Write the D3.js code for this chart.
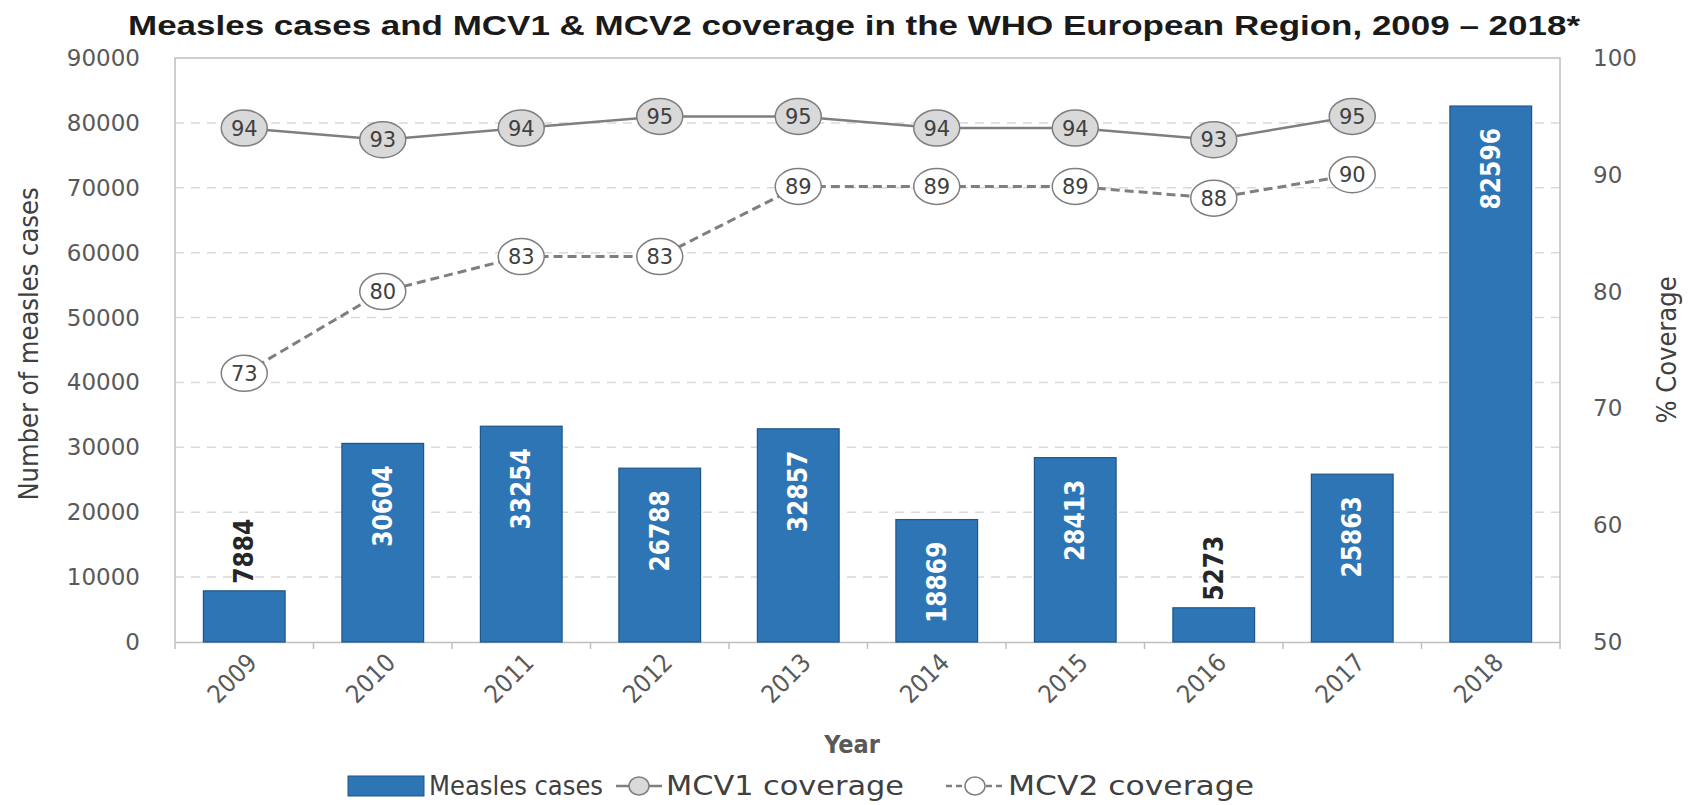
<!DOCTYPE html>
<html>
<head>
<meta charset="utf-8">
<script src="https://cdn.jsdelivr.net/npm/d3@7"></script>
<style>
  body { margin: 0; background: #fff; }
  svg { display: block; }
  .cond { font-family: "Liberation Sans Narrow", "DejaVu Sans Condensed", "Roboto", sans-serif; }
  .wide { font-family: "DejaVu Sans", "Verdana", sans-serif; }
</style>
</head>
<body>
<svg id="chart" width="1696" height="805"></svg>
<script>
var years = ["2009","2010","2011","2012","2013","2014","2015","2016","2017","2018"];
var cases = [7884, 30604, 33254, 26788, 32857, 18869, 28413, 5273, 25863, 82596];
var mcvYears = ["2009","2010","2011","2012","2013","2014","2015","2016","2017"];
var mcv1 = [94, 93, 94, 95, 95, 94, 94, 93, 95];
var mcv2 = [73, 80, 83, 83, 89, 89, 89, 88, 90];
var leftTicks = [0,10000,20000,30000,40000,50000,60000,70000,80000,90000];
var rightTicks = [50,60,70,80,90,100];

var svg = d3.select('#chart');
var pLeft = 175, pRight = 1560, pTop = 58, pBottom = 642;

// scales
var x = d3.scaleBand().domain(years).range([pLeft, pRight]).paddingInner(0.41).paddingOuter(0.205);
var xc = function(yr) { return x(yr) + x.bandwidth() / 2; };
var y = d3.scaleLinear().domain([0, 90000]).range([pBottom, pTop]);
var y2 = d3.scaleLinear().domain([50, 100]).range([pBottom, pTop]);

// title
svg.append('text')
  .attr('x', 854).attr('y', 35)
  .attr('text-anchor', 'middle')
  .attr('font-family', '"Liberation Sans", Arial, sans-serif')
  .attr('font-weight', 'bold').attr('font-size', 27)
  .attr('fill', '#1a1a1a')
  .attr('textLength', 1452).attr('lengthAdjust', 'spacingAndGlyphs')
  .text('Measles cases and MCV1 & MCV2 coverage in the WHO European Region, 2009 \u2013 2018*');

// gridlines
svg.append('g').selectAll('line')
  .data(leftTicks.filter(function(t){ return t > 0 && t < 90000; }))
  .enter().append('line')
    .attr('x1', pLeft).attr('x2', pRight)
    .attr('y1', function(d){ return y(d); }).attr('y2', function(d){ return y(d); })
    .attr('stroke', '#d9d9d9').attr('stroke-width', 1.5)
    .attr('stroke-dasharray', '9,7');

// plot frame (left, top, right)
svg.append('path')
  .attr('d', 'M' + pLeft + ',' + pBottom + 'V' + pTop + 'H' + pRight + 'V' + pBottom)
  .attr('fill', 'none').attr('stroke', '#bfbfbf').attr('stroke-width', 1.5);

// x axis
var xAxis = d3.axisBottom(x).tickSize(0).tickFormat('');
svg.append('g').attr('transform', 'translate(0,' + pBottom + ')').call(xAxis)
  .call(function(g){ g.select('.domain').attr('stroke', '#bfbfbf').attr('stroke-width', 1.5); });
// category separator ticks
var seps = d3.range(years.length + 1).map(function(i){ return pLeft + i * (pRight - pLeft) / years.length; });
svg.append('g').selectAll('line').data(seps).enter().append('line')
  .attr('x1', function(d){ return d; }).attr('x2', function(d){ return d; })
  .attr('y1', pBottom).attr('y2', pBottom + 7)
  .attr('stroke', '#bfbfbf').attr('stroke-width', 1.5);

svg.append('g').selectAll('text').data(years).enter().append('text')
  .attr('class', 'cond')
  .attr('transform', function(d){ return 'translate(' + (xc(d) + 8) + ',' + (pBottom + 16) + ') rotate(-45)'; })
  .attr('text-anchor', 'end').attr('dy', '0.35em')
  .attr('font-size', 25).attr('fill', '#595959')
  .text(function(d){ return d; });

// left axis labels
svg.append('g').selectAll('text').data(leftTicks).enter().append('text')
  .attr('class', 'wide')
  .attr('x', 140).attr('y', function(d){ return y(d); })
  .attr('dy', '0.35em').attr('text-anchor', 'end')
  .attr('font-size', 23).attr('fill', '#595959')
  .text(function(d){ return d; });

// right axis labels
svg.append('g').selectAll('text').data(rightTicks).enter().append('text')
  .attr('class', 'wide')
  .attr('x', 1593).attr('y', function(d){ return y2(d); })
  .attr('dy', '0.35em').attr('text-anchor', 'start')
  .attr('font-size', 23).attr('fill', '#595959')
  .text(function(d){ return d; });

// axis titles
svg.append('text').attr('class', 'cond')
  .attr('transform', 'translate(38,344) rotate(-90)')
  .attr('text-anchor', 'middle').attr('font-size', 27).attr('fill', '#404040')
  .text('Number of measles cases');
svg.append('text').attr('class', 'cond')
  .attr('transform', 'translate(1676,350) rotate(-90)')
  .attr('text-anchor', 'middle').attr('font-size', 27).attr('fill', '#404040')
  .text('% Coverage');
svg.append('text').attr('class', 'cond')
  .attr('x', 852).attr('y', 753).attr('text-anchor', 'middle')
  .attr('font-weight', 'bold').attr('font-size', 25).attr('fill', '#595959')
  .text('Year');

// bars
svg.append('g').selectAll('rect').data(cases).enter().append('rect')
  .attr('x', function(d, i){ return x(years[i]); })
  .attr('y', function(d){ return y(d); })
  .attr('width', x.bandwidth())
  .attr('height', function(d){ return pBottom - y(d); })
  .attr('fill', '#2e75b6').attr('stroke', '#1f5688').attr('stroke-width', 1.2);

// bar labels
svg.append('g').selectAll('text').data(cases).enter().append('text')
  .attr('class', 'cond')
  .attr('transform', function(d, i){
    var inside = d > 15000;
    var ty = inside ? y(d) + 22 : y(d) - 7;
    return 'translate(' + xc(years[i]) + ',' + ty + ') rotate(-90)';
  })
  .attr('text-anchor', function(d){ return d > 15000 ? 'end' : 'start'; })
  .attr('dy', '0.35em')
  .attr('font-size', 26).attr('font-weight', 'bold')
  .attr('fill', function(d){ return d > 15000 ? '#ffffff' : '#262626'; })
  .text(function(d){ return d; });

// coverage lines
var line = d3.line().x(function(d, i){ return xc(mcvYears[i]); }).y(function(d){ return y2(d); });
svg.append('path').datum(mcv1)
  .attr('d', line).attr('fill', 'none')
  .attr('stroke', '#7f7f7f').attr('stroke-width', 2.5);
svg.append('path').datum(mcv2)
  .attr('d', line).attr('fill', 'none')
  .attr('stroke', '#7f7f7f').attr('stroke-width', 3).attr('stroke-dasharray', '9,5');

function markers(data, fill) {
  var g = svg.append('g').selectAll('g').data(data).enter().append('g')
    .attr('transform', function(d, i){ return 'translate(' + xc(mcvYears[i]) + ',' + y2(d) + ')'; });
  g.append('ellipse').attr('rx', 23).attr('ry', 18)
    .attr('fill', fill).attr('stroke', '#7f7f7f').attr('stroke-width', 1.5);
  g.append('text').attr('class', 'wide')
    .attr('text-anchor', 'middle').attr('dy', '0.36em')
    .attr('font-size', 21).attr('fill', '#404040')
    .text(function(d){ return d; });
}
markers(mcv1, '#d9d9d9');
markers(mcv2, '#ffffff');

// legend
var ly = 786;
var lg = svg.append('g').attr('class', 'cond').attr('font-size', 27).attr('fill', '#404040');
lg.append('rect').attr('x', 348).attr('y', ly - 10).attr('width', 76).attr('height', 20)
  .attr('fill', '#2e75b6').attr('stroke', '#1f5688');
lg.append('text').attr('x', 429).attr('y', ly).attr('dy', '0.35em')
  .attr('textLength', 174).attr('lengthAdjust', 'spacingAndGlyphs').text('Measles cases');
lg.append('line').attr('x1', 616).attr('x2', 662).attr('y1', ly).attr('y2', ly)
  .attr('stroke', '#7f7f7f').attr('stroke-width', 2.5);
lg.append('ellipse').attr('cx', 639).attr('cy', ly).attr('rx', 10).attr('ry', 9)
  .attr('fill', '#d9d9d9').attr('stroke', '#7f7f7f').attr('stroke-width', 1.5);
lg.append('text').attr('x', 666).attr('y', ly).attr('dy', '0.35em')
  .attr('textLength', 238).attr('lengthAdjust', 'spacingAndGlyphs').text('MCV1 coverage');
lg.append('line').attr('x1', 946).attr('x2', 1002).attr('y1', ly).attr('y2', ly)
  .attr('stroke', '#7f7f7f').attr('stroke-width', 2.5).attr('stroke-dasharray', '6,4');
lg.append('ellipse').attr('cx', 975).attr('cy', ly).attr('rx', 10).attr('ry', 9)
  .attr('fill', '#ffffff').attr('stroke', '#7f7f7f').attr('stroke-width', 1.5);
lg.append('text').attr('x', 1008).attr('y', ly).attr('dy', '0.35em')
  .attr('textLength', 246).attr('lengthAdjust', 'spacingAndGlyphs').text('MCV2 coverage');
</script>
</body>
</html>
